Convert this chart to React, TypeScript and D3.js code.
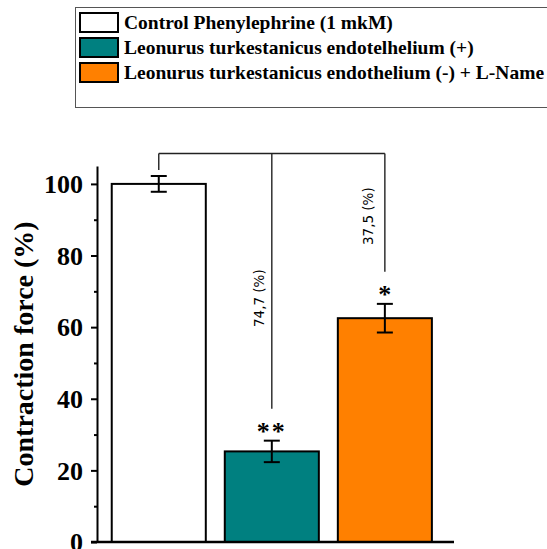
import { select, scaleBand, scaleLinear, axisLeft } from "d3";
import React, { useEffect, useRef } from "react";

const groups = [
  "Control Phenylephrine (1 mkM)",
  "Leonurus turkestanicus endotelhelium (+)",
  "Leonurus turkestanicus endothelium (-) + L-Name",
];
const means = [100, 25.3, 62.5];
const errors = [2.2, 3.0, 4.0];
const colors = ["#ffffff", "#008080", "#ff8000"];
const stars = ["", "**", "*"];
const diffLabels = ["", "74,7 (%)", "37,5 (%)"];
const diffLabelAt = [0, 68.1, 91.0];
const majorTicks = [0, 20, 40, 60, 80, 100];
const minorTicks = [10, 30, 50, 70, 90];
const bracketAt = 108.5;

const W = 547;
const H = 549;

function App() {
  const svgRef = useRef(null);

  useEffect(() => {
    const svg = select(svgRef.current);
    svg.selectAll("*").remove();

    const serif = "'Liberation Serif', 'Times New Roman', serif";

    // legend box
    const leg = svg.append("g");
    leg
      .append("rect")
      .attr("x", 75.5)
      .attr("y", 7.5)
      .attr("width", 520)
      .attr("height", 100)
      .attr("fill", "white")
      .attr("stroke", "#555")
      .attr("stroke-width", 1);
    groups.forEach((g, i) => {
      leg
        .append("rect")
        .attr("x", 80)
        .attr("y", 13 + i * 25)
        .attr("width", 38)
        .attr("height", 19)
        .attr("fill", colors[i])
        .attr("stroke", "#000")
        .attr("stroke-width", 2);
      leg
        .append("text")
        .attr("x", 124)
        .attr("y", 28.5 + i * 25)
        .attr("font-family", serif)
        .attr("font-weight", "bold")
        .attr("font-size", 19.5)
        .text(g);
    });

    const yScale = scaleLinear().domain([0, 105]).range([542, 166]);
    const xScale = scaleBand()
      .domain(groups)
      .range([97, 454])
      .paddingInner(0.168)
      .paddingOuter(0.163)
      .align(0.4);

    const cx = (i) => xScale(groups[i]) + xScale.bandwidth() / 2;

    // bars
    svg
      .selectAll(".bar")
      .data(groups)
      .join("rect")
      .attr("class", "bar")
      .attr("x", (d) => xScale(d))
      .attr("y", (d, i) => yScale(means[i]))
      .attr("width", xScale.bandwidth())
      .attr("height", (d, i) => yScale(0) - yScale(means[i]))
      .attr("fill", (d, i) => colors[i])
      .attr("stroke", "#000")
      .attr("stroke-width", 2);

    // error bars
    const err = svg.append("g").attr("stroke", "#000").attr("stroke-width", 2);
    groups.forEach((g, i) => {
      const x = cx(i);
      const top = yScale(means[i] + errors[i]);
      const bot = yScale(means[i] - errors[i]);
      err.append("line").attr("x1", x).attr("x2", x).attr("y1", top).attr("y2", bot);
      err.append("line").attr("x1", x - 8).attr("x2", x + 8).attr("y1", top).attr("y2", top);
      err.append("line").attr("x1", x - 8).attr("x2", x + 8).attr("y1", bot).attr("y2", bot);
    });

    // significance bracket
    const br = svg.append("g").attr("stroke", "#222").attr("stroke-width", 1.4).attr("fill", "none");
    const yb = yScale(bracketAt);
    br.append("line").attr("x1", cx(0)).attr("x2", cx(2)).attr("y1", yb).attr("y2", yb);
    groups.forEach((g, i) => {
      const errTop = yScale(means[i] + errors[i]);
      const end = stars[i] ? errTop - 32 : errTop - 6;
      br.append("line").attr("x1", cx(i)).attr("x2", cx(i)).attr("y1", yb).attr("y2", end);
    });

    // asterisks
    groups.forEach((g, i) => {
      if (!stars[i]) return;
      svg
        .append("text")
        .attr("x", cx(i))
        .attr("y", yScale(means[i] + errors[i]) - 1)
        .attr("text-anchor", "middle")
        .attr("font-family", serif)
        .attr("font-weight", "bold")
        .attr("font-size", 26)
        .attr("letter-spacing", i === 1 ? 2 : 0)
        .text(stars[i]);
    });

    // difference labels
    groups.forEach((g, i) => {
      if (!diffLabels[i]) return;
      const x = cx(i) - (i === 1 ? 13 : 17);
      const y = yScale(diffLabelAt[i]);
      svg
        .append("text")
        .attr("transform", `translate(${x},${y}) rotate(-90)`)
        .attr("text-anchor", "middle")
        .attr("dominant-baseline", "central")
        .attr("font-family", "'DejaVu Sans', sans-serif")
        .attr("font-size", 13.5)
        .text(diffLabels[i]);
    });

    // y axis
    const yAxis = svg
      .append("g")
      .attr("transform", "translate(97,0)")
      .call(axisLeft(yScale).tickValues(majorTicks).tickSize(6).tickSizeOuter(0).tickPadding(8));
    yAxis.select(".domain").attr("stroke-width", 2);
    yAxis.selectAll(".tick line").attr("stroke-width", 2);
    yAxis
      .selectAll(".tick text")
      .attr("font-family", serif)
      .attr("font-weight", "bold")
      .attr("font-size", 26)
      .attr("dy", "0.34em");
    const minor = svg
      .append("g")
      .attr("transform", "translate(97,0)")
      .call(axisLeft(yScale).tickValues(minorTicks).tickSize(3).tickFormat(() => ""));
    minor.select(".domain").remove();
    minor.selectAll(".tick line").attr("stroke-width", 2);

    // x axis line
    svg
      .append("line")
      .attr("x1", 91)
      .attr("x2", 454)
      .attr("y1", yScale(0))
      .attr("y2", yScale(0))
      .attr("stroke", "#000")
      .attr("stroke-width", 2.5);

    // y label
    svg
      .append("text")
      .attr("transform", `translate(33,${(yScale(0) + yScale(105)) / 2 + 0}) rotate(-90)`)
      .attr("text-anchor", "middle")
      .attr("font-family", serif)
      .attr("font-weight", "bold")
      .attr("font-size", 28)
      .text("Contraction force (%)");
  }, []);

  return (
    <svg
      ref={svgRef}
      width={W}
      height={H}
      style={{ position: "absolute", left: 0, top: 0, background: "white" }}
    />
  );
}

export default App;
